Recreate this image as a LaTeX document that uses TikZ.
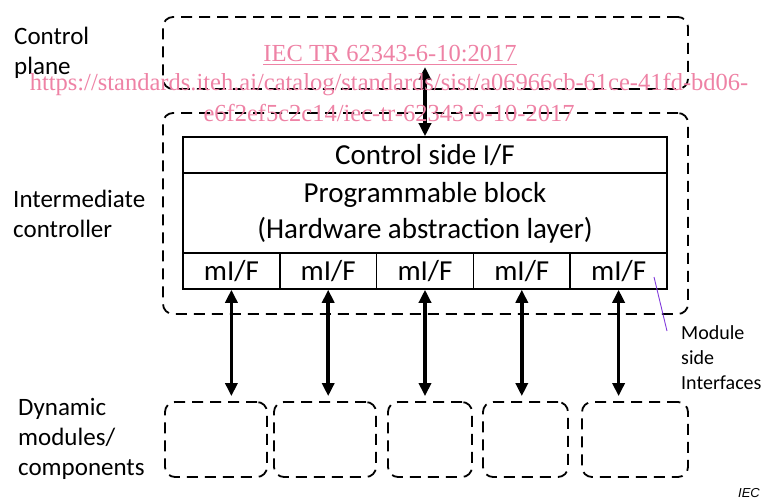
\documentclass[tikz,border=0pt]{standalone}
\usepackage{fontspec}
\setmainfont{Carlito}
\newfontfamily\wmfont{Liberation Serif}
\newfontfamily\arialfont{Liberation Sans}
\usetikzlibrary{arrows.meta}
\definecolor{wm}{RGB}{238,130,165}
\definecolor{pointer}{RGB}{130,60,220}
\begin{document}
\begin{tikzpicture}[x=1pt,y=-1pt,
  dbox/.style={draw, line width=1.8pt, dash pattern=on 11pt off 7pt, rounded corners=10pt, inner sep=0pt},
  cell/.style={draw, line width=1.5pt, inner sep=0pt, font=\fontsize{29}{36}\selectfont, align=center},
  biarrow/.style={line width=3.5pt, {Triangle[width=12pt,length=13pt]}-{Triangle[width=12pt,length=13pt]}},
  side/.style={font=\fontsize{25}{30}\selectfont, align=left, anchor=base west, inner sep=0pt},
  note/.style={font=\fontsize{20}{25}\selectfont, align=left, anchor=base west, inner sep=0pt},
  wmtext/.style={font=\wmfont\fontsize{24.5}{30}\selectfont, text=wm, anchor=base, inner sep=0pt}]
\useasboundingbox (0,0) rectangle (766,500);

% dashed groups
\node[dbox, minimum width=525pt, minimum height=72pt] (cp) at (425.5,53) {};
\node[dbox, minimum width=525pt, minimum height=201pt] (ic) at (425.5,213.5) {};

% programmable block
\node[cell, minimum width=484pt, minimum height=36pt] (ctrlif) at (425,155) {Control side I/F};
\node[cell, minimum width=484pt, minimum height=80pt] (prog) at (425,213) {Programmable block\\(Hardware abstraction layer)};
\foreach \i/\x in {1/231.4,2/328.2,3/425,4/521.8,5/618.6}{
  \node[cell, minimum width=96.8pt, minimum height=36pt] (mif\i) at (\x,271) {mI/F};
}

% dynamic modules
\node[dbox, minimum width=102pt, minimum height=75pt] (mod1) at (216,439.5) {};
\node[dbox, minimum width=102pt, minimum height=75pt] (mod2) at (325,439.5) {};
\node[dbox, minimum width=84pt, minimum height=75pt] (mod3) at (430,439.5) {};
\node[dbox, minimum width=85pt, minimum height=75pt] (mod4) at (525.5,439.5) {};
\node[dbox, minimum width=106pt, minimum height=75pt] (mod5) at (635,439.5) {};

% arrows
\coordinate (cptip) at (425,67);
\draw[biarrow] (ctrlif.north) -- (cptip);
\foreach \i in {1,...,5}{
  \draw[biarrow, shorten >=5pt] (mif\i.south) -- (mif\i.south |- mod\i.north);
}

% side labels (base anchor = last line)
\node[side] (lcp) at (14,75) {Control\\plane};
\node[side] (lic) at (13,237) {Intermediate\\controller};
\node[side] (ldm) at (18,475) {Dynamic\\modules/\\components};
\node[note] (msi) at (681,389) {Module\\side\\Interfaces};
\coordinate (ptrA) at (654,277);
\coordinate (ptrB) at (667,331);
\draw[pointer, line width=0.9pt] (ptrA) -- (ptrB);

\node[font=\arialfont\itshape\fontsize{13}{15}\selectfont, anchor=base east, inner sep=0pt] (iec) at (760,497) {IEC};

% watermark
\node[wmtext] (wm1) at (390,62) {\underline{IEC TR 62343-6-10:2017}};
\node[wmtext] (wm2) at (389,91) {https://standards.iteh.ai/catalog/standards/sist/a06966cb-61ce-41fd-bd06-};
\node[wmtext] (wm3) at (389,122) {e6f2ef5c2c14/iec-tr-62343-6-10-2017};
\end{tikzpicture}
\end{document}
